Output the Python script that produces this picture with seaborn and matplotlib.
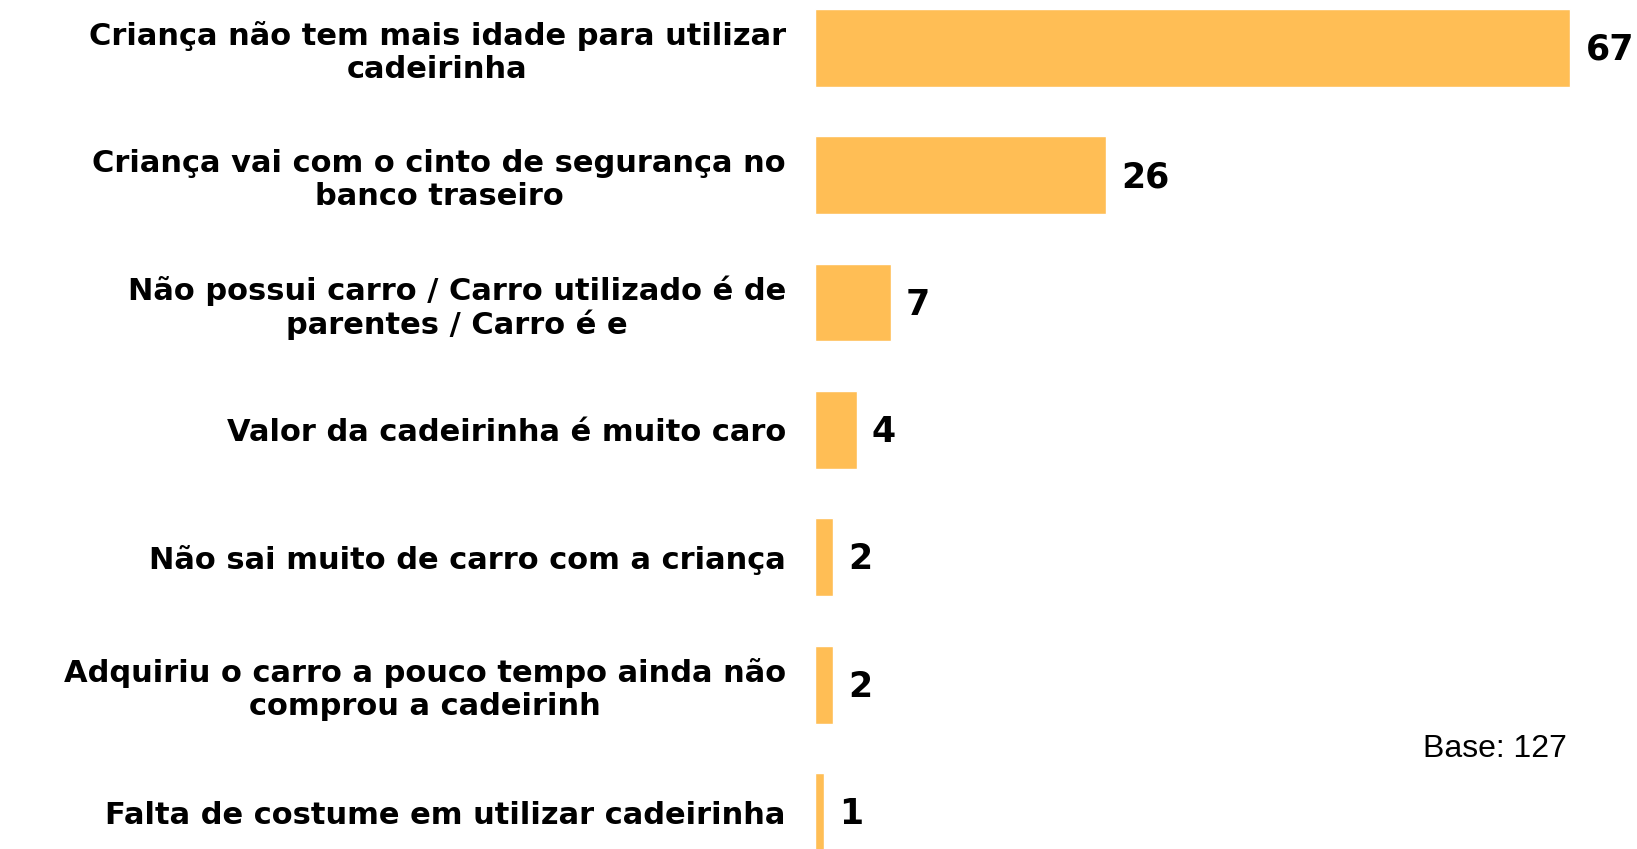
import seaborn as sns
import pandas as pd
from matplotlib import pyplot as plt

# motivos para não usar a cadeirinha
categorias = [
    "Criança não tem mais idade para utilizar\ncadeirinha",
    "Criança vai com o cinto de segurança no\nbanco traseiro",
    "Não possui carro / Carro utilizado é de\nparentes / Carro é e",
    "Valor da cadeirinha é muito caro",
    "Não sai muito de carro com a criança",
    "Adquiriu o carro a pouco tempo ainda não\ncomprou a cadeirinh",
    "Falta de costume em utilizar cadeirinha",
]
valores = [66.9, 25.8, 6.7, 3.7, 1.6, 1.6, 0.8]
rotulos = ["67", "26", "7", "4", "2", "2", "1"]
base_txt = "Base: 127"

df = pd.DataFrame({"motivo": categorias, "pct": valores})

sns.set_style("white")
fig = plt.figure(figsize=(16.37, 8.49), dpi=100)
ax = fig.add_axes([815 / 1637, 0, 1 - 815 / 1637, 1])

sns.barplot(data=df, x="pct", y="motivo", orient="h", color="#FFBE55",
            saturation=1, width=0.61, ax=ax)

pitch = 127.4
ax.set_ylim(6 + (849 - 812) / pitch, -48 / pitch)
ax.set_xlim(0, 72.8)
ax.set_xlabel("")
ax.set_ylabel("")
ax.set_xticks([])
sns.despine(ax=ax, left=True, bottom=True)

ax.tick_params(axis="y", length=0, pad=21)
for lbl in ax.get_yticklabels():
    lbl.set_fontsize(22)
    lbl.set_fontweight("bold")
    lbl.set_family("DejaVu Sans")
    lbl.set_color("black")
    lbl.set_multialignment("center")
    lbl.set_linespacing(1.15)

for i, v in enumerate(valores):
    ax.annotate(rotulos[i], (v, i), xytext=(15, -2), textcoords="offset pixels",
                va="center", ha="left", fontsize=25, fontweight="bold",
                family="DejaVu Sans", color="black")

fig.text(1423 / 1637, 1 - 749 / 849, base_txt, fontsize=23,
         family="Liberation Sans", va="center", ha="left", color="black")

fig.savefig("out.png", dpi=100)
